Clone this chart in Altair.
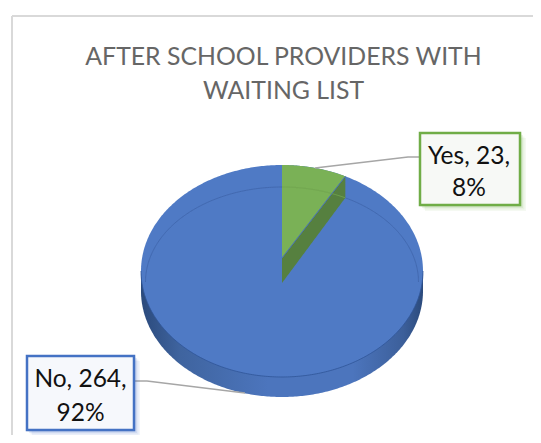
import numpy as np
import pandas as pd
import altair as alt

# Chart values
categories = ["Yes", "No"]
counts = [23, 264]
percents = [8, 92]
title_lines = ["AFTER SCHOOL PROVIDERS WITH", "WAITING LIST"]

# Drawing geometry (pixel space of the 541x443 picture)
CX, CY, RX, RY, DEPTH = 282.0, 271.0, 141.0, 106.0, 20.0
FONT = "Lato"
PERSPECTIVE = 0.925

X = alt.Scale(domain=[8, 533], range=[0, 525], nice=False, zero=False)
Y = alt.Scale(domain=[8, 435], range=[0, 427], nice=False, zero=False)


def enc_x(f="x"):
    return alt.X(f"{f}:Q", scale=X, axis=None)


def enc_y(f="y"):
    return alt.Y(f"{f}:Q", scale=Y, axis=None, stack=None)


def band(df, **mark):
    return alt.Chart(df).mark_area(orient="vertical", **mark).encode(
        x=enc_x(), y=enc_y(), y2=alt.Y2("y2:Q")
    )


def path(pts, **mark):
    df = pd.DataFrame(pts, columns=["x", "y"]).assign(i=lambda d: range(len(d)))
    return alt.Chart(df).mark_line(**mark).encode(
        x=enc_x(), y=enc_y(), order=alt.Order("i:Q")
    )


def ell_xs(x0=-1.0, x1=1.0, n=241):
    a = np.linspace(np.arccos(x0), np.arccos(x1), n)
    return np.cos(a)


def rect(x0, x1, y0, y1, **mark):
    df = pd.DataFrame({"x": [x0], "x2": [x1], "y": [y0], "y2": [y1]})
    return alt.Chart(df).mark_rect(**mark).encode(
        x=enc_x(), x2=alt.X2("x2:Q"), y=enc_y(), y2=alt.Y2("y2:Q")
    )


def text(lines, cx, ys, size, color):
    df = pd.DataFrame({"t": lines, "x": [cx] * len(lines), "y": ys})
    return alt.Chart(df).mark_text(
        font=FONT, fontSize=size, color=color, align="center", baseline="middle"
    ).encode(x=enc_x(), y=enc_y(), text="t:N")


# Slice boundary follows the data share
share = counts[0] / sum(counts)
end = np.sin(2 * np.pi * share * PERSPECTIVE)
cx_end = CX + RX * end
cy_end = CY - RY * np.sqrt(1 - end ** 2)
apex_top, apex_bot = 258.0, 283.0

u = ell_xs()
upper = CY - RY * np.sqrt(1 - u ** 2)
lower = CY + RY * np.sqrt(1 - u ** 2)
xs = CX + RX * u

side = band(
    pd.DataFrame({"x": xs, "y": CY, "y2": lower + DEPTH}),
    color=alt.Gradient(
        gradient="linear", x1=0, x2=1, y1=0, y2=0,
        stops=[
            alt.GradientStop(color="#2b4a7c", offset=0),
            alt.GradientStop(color="#3f649f", offset=0.14),
            alt.GradientStop(color="#4c75bd", offset=0.45),
            alt.GradientStop(color="#4c75bd", offset=0.75),
            alt.GradientStop(color="#3c5f9a", offset=0.93),
            alt.GradientStop(color="#2b4a7c", offset=1),
        ],
    ),
)
face = band(pd.DataFrame({"x": xs, "y": upper, "y2": lower}), color="#4f7ac5")
lower_line = path(list(zip(xs, lower)), color="#2f5597", strokeWidth=1, opacity=0.8)

i_rx, i_cy, i_ry = 136.5, 282.0, 95.0
inner = path(
    list(zip(CX + i_rx * ell_xs(), i_cy - i_ry * np.sqrt(1 - ell_xs() ** 2))),
    color="#4269b0", strokeWidth=1,
)

w = np.linspace(0, 1, 120)
wx = CX + (cx_end - CX) * w
wu = (wx - CX) / RX
wall = band(
    pd.DataFrame({
        "x": wx,
        "y": apex_top + (cy_end - apex_top) * w,
        "y2": apex_bot + (cy_end + 21.5 - apex_bot) * w,
    }),
    color="#56803f",
)
green = band(
    pd.DataFrame({
        "x": wx,
        "y": CY - RY * np.sqrt(1 - wu ** 2),
        "y2": apex_top + (cy_end - apex_top) * w,
    }),
    color="#7ab156",
)
green_inner = path(
    [(x, i_cy - i_ry * np.sqrt(1 - ((x - CX) / i_rx) ** 2)) for x in wx],
    color="#72a650", strokeWidth=1,
)
wedge_edge = path([(CX, apex_top), (cx_end, cy_end)], color="#4a72b5", strokeWidth=1)

frame = [
    path([(12, 16), (12, 435)], color="#d9d9d9", strokeWidth=2),
    path([(12, 16), (533, 16)], color="#d9d9d9", strokeWidth=2),
]

leaders = [
    path([(419, 157), (408, 157), (315, 168)], color="#a6a6a6", strokeWidth=1.5),
    path([(135, 381), (147, 381), (245, 393)], color="#a6a6a6", strokeWidth=1.5),
]


def box(x0, x1, y0, y1, stroke, fill, shadow):
    parts = []
    for off, op in [(6, 0.07), (4.5, 0.09), (3, 0.12), (1.5, 0.15)]:
        parts.append(rect(x0 + off - 1, x1 + off, y0 + off - 1, y1 + off, color=shadow, opacity=op))
    parts.append(rect(x0, x1, y0, y1, fill=fill, stroke=stroke, strokeWidth=2.5))
    return parts


labels = []
for cat, n, p, geo, stroke, fill, shadow, ys, tx in [
    (categories[0], counts[0], percents[0], (420, 520, 133, 205), "#70ad47", "#f7f9f6", "#70ad47", (157, 189), 469),
    (categories[1], counts[1], percents[1], (27, 134, 356, 430), "#4472c4", "#f6f8fc", "#4472c4", (380, 414), 80.5),
]:
    labels += box(*geo, stroke, fill, shadow)
    labels.append(text([f"{cat}, {n},", f"{p}%"], tx, list(ys), 24.5, "#111111"))

title = text(title_lines, 283.5, [58, 92], 24.8, "#666666")

chart = alt.layer(
    *frame, title, side, face, lower_line, inner, wall, green, green_inner,
    wedge_edge, *leaders, *labels,
).properties(
    width=525, height=427, padding=0,
    autosize=alt.AutoSizeParams(type="none"),
).configure_view(stroke=None)

chart.save("out.html", embed_options={"renderer": "svg", "actions": False})
